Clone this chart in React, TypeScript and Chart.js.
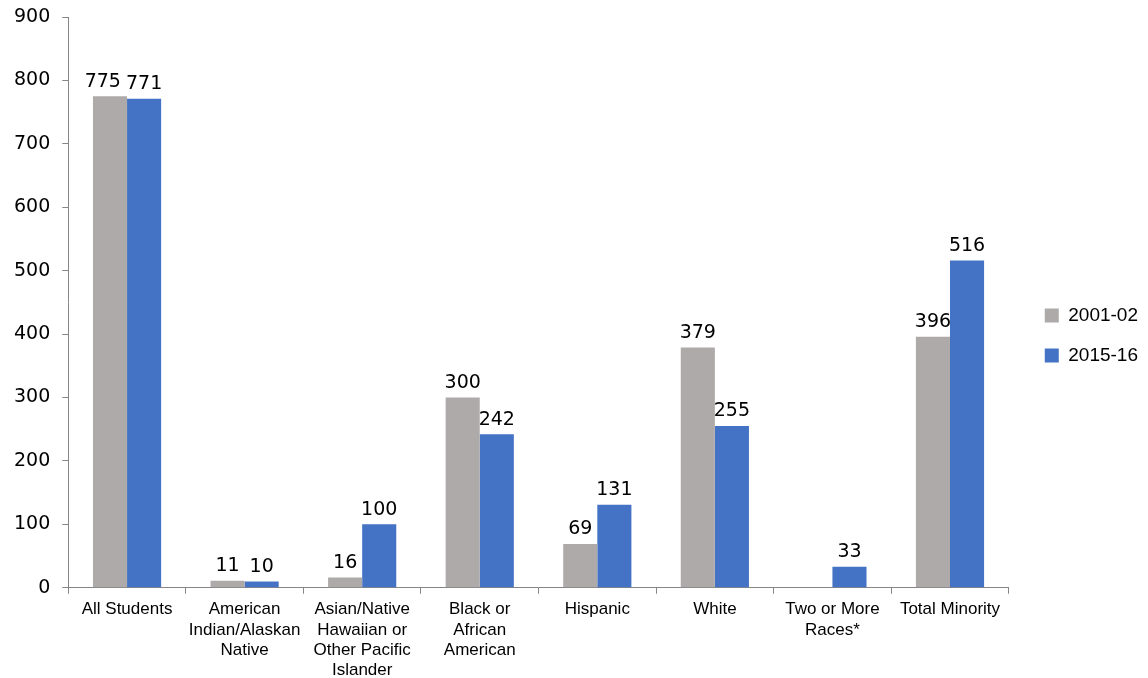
import React, { useEffect, useRef } from "react";
import { Chart, registerables } from "chart.js";

Chart.register(...registerables);

const categories: string[][] = [
  ["All Students"],
  ["American", "Indian/Alaskan", "Native"],
  ["Asian/Native", "Hawaiian or", "Other Pacific", "Islander"],
  ["Black or", "African", "American"],
  ["Hispanic"],
  ["White"],
  ["Two or More", "Races*"],
  ["Total Minority"],
];
const series2001: (number | null)[] = [775, 11, 16, 300, 69, 379, null, 396];
const series2015: (number | null)[] = [771, 10, 100, 242, 131, 255, 33, 516];
const yTicks = { min: 0, max: 900, step: 100 };

const GRAY = "#AEAAAA";
const BLUE = "#4472C4";
const AXIS = "#868686";

const labelPlugin = {
  id: "barLabels",
  afterDatasetsDraw(chart: any) {
    const ctx = chart.ctx;
    ctx.save();
    ctx.fillStyle = "#000";
    ctx.font = "19px 'DejaVu Sans'";
    ctx.textAlign = "center";
    ctx.textBaseline = "bottom";
    const m0 = chart.getDatasetMeta(0);
    const m1 = chart.getDatasetMeta(1);
    const d0 = chart.data.datasets[0].data;
    const d1 = chart.data.datasets[1].data;
    const n = chart.data.labels.length;
    for (let i = 0; i < n; i++) {
      const v0 = d0[i];
      const v1 = d1[i];
      let x0 = m0.data[i]?.x;
      const y0 = m0.data[i]?.y - 5;
      const x1 = m1.data[i]?.x;
      const y1 = m1.data[i]?.y - 5;
      if (v0 != null && v1 != null) {
        const w0 = ctx.measureText(String(v0)).width;
        const w1 = ctx.measureText(String(v1)).width;
        const hOverlap = x0 + w0 / 2 + 5 - (x1 - w1 / 2);
        if (hOverlap > 0 && Math.abs(y0 - y1) < 20) x0 -= hOverlap;
      }
      if (v0 != null) ctx.fillText(String(v0), x0, y0);
      if (v1 != null) ctx.fillText(String(v1), x1, y1);
    }
    ctx.restore();
  },
};

const legendShift = {
  id: "legendShift",
  afterLayout(chart: any) {
    const lg = chart.legend;
    if (lg) {
      lg.top -= 12;
      lg.bottom -= 12;
    }
  },
};

export default function App() {
  const ref = useRef<HTMLCanvasElement>(null);
  useEffect(() => {
    const chart = new Chart(ref.current!, {
      type: "bar",
      data: {
        labels: categories,
        datasets: [
          { label: "2001-02", data: series2001, backgroundColor: GRAY, barPercentage: 1, categoryPercentage: 0.58 },
          { label: "2015-16", data: series2015, backgroundColor: BLUE, barPercentage: 1, categoryPercentage: 0.58 },
        ],
      },
      options: {
        responsive: false,
        animation: false,
        layout: { padding: { top: 17, left: 2, right: 0, bottom: 0 } },
        plugins: {
          legend: {
            position: "right",
            labels: {
              boxWidth: 14,
              boxHeight: 14,
              color: "#000",
              padding: 21,
              font: { family: "'Liberation Sans'", size: 19 },
            },
          },
          tooltip: { enabled: false },
        },
        scales: {
          x: {
            grid: { drawOnChartArea: false, drawTicks: true, tickLength: 6, color: AXIS },
            border: { color: AXIS, width: 1 },
            ticks: {
              color: "#000",
              maxRotation: 0,
              autoSkip: false,
              padding: 6,
              font: { family: "'Liberation Sans'", size: 17, lineHeight: 1.18 },
            },
            afterFit: (s: any) => {
              s.height -= 8;
            },
          },
          y: {
            min: yTicks.min,
            max: yTicks.max,
            grid: { drawOnChartArea: false, drawTicks: true, tickLength: 6, color: AXIS },
            border: { color: AXIS, width: 1 },
            ticks: {
              stepSize: yTicks.step,
              color: "#000",
              padding: 12,
              font: { family: "'DejaVu Sans'", size: 19 },
            },
            afterFit: (s: any) => {
              s.paddingTop = 0;
              s.paddingBottom = 0;
            },
          },
          yGap: {
            position: "right",
            display: true,
            grid: { display: false },
            border: { display: false },
            ticks: { display: false },
            afterFit: (s: any) => {
              s.width = 15;
            },
          },
        },
      },
      plugins: [labelPlugin, legendShift],
    });
    return () => chart.destroy();
  }, []);
  return (
    <div style={{ position: "absolute", left: 0, top: 0, width: 1148, height: 678, background: "#fff" }}>
      <canvas ref={ref} width={1148} height={678} />
    </div>
  );
}
